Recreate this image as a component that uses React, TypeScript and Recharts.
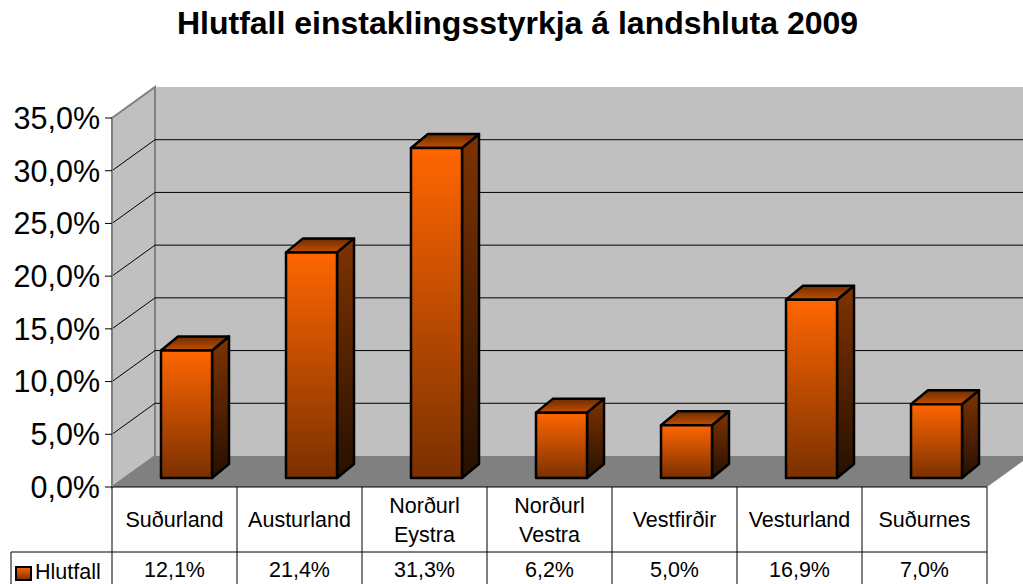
import { BarChart, Bar, XAxis, YAxis, CartesianGrid, ReferenceArea } from 'recharts';

const FONT = '"Liberation Sans", Arial, Helvetica, sans-serif';

const title = 'Hlutfall einstaklingsstyrkja á landshluta 2009';
const seriesName = 'Hlutfall';
const categories = ['Suðurland', 'Austurland', 'Norðurl Eystra', 'Norðurl Vestra', 'Vestfirðir', 'Vesturland', 'Suðurnes'];
const values = [0.121, 0.214, 0.313, 0.062, 0.05, 0.169, 0.07];
const yTicks = [0, 0.05, 0.1, 0.15, 0.2, 0.25, 0.3, 0.35];

// 3d look: wall depth and where bars sit inside it
const DEPTH_X = 43;
const DEPTH_Y = 31;
const BAR_SHIFT_X = 12;
const BAR_SHIFT_Y = 9;
const BAR_DX = 17;
const BAR_DY = 14;

const fmt = (v: number) => (v * 100).toFixed(1).replace('.', ',') + '%';

const data = categories.map((name, i) => ({ name, value: values[i] }));

function Walls(props: any) {
  const { x, y, width, height } = props;
  const bottom = y + height;
  return (
    <g>
      <defs>
        <linearGradient id="barFront" x1="0" y1="0" x2="0" y2="1">
          <stop offset="0%" stopColor="#FF6600" />
          <stop offset="100%" stopColor="#7A3000" />
        </linearGradient>
        <linearGradient id="barSide" x1="0" y1="0" x2="0" y2="1">
          <stop offset="0%" stopColor="#7F3300" />
          <stop offset="100%" stopColor="#261000" />
        </linearGradient>
        <linearGradient id="barTop" x1="0" y1="0" x2="0" y2="1">
          <stop offset="0%" stopColor="#6E2C00" />
          <stop offset="100%" stopColor="#C24F00" />
        </linearGradient>
      </defs>
      {/* back wall */}
      <rect x={x + DEPTH_X} y={y - DEPTH_Y} width={width + 10} height={height} fill="#C0C0C0" />
      {/* floor */}
      <polygon
        points={`${x},${bottom} ${x + width},${bottom} ${x + width + DEPTH_X},${bottom - DEPTH_Y} ${x + DEPTH_X},${bottom - DEPTH_Y}`}
        fill="#808080"
      />
      {/* left wall */}
      <polygon
        points={`${x},${y} ${x + DEPTH_X},${y - DEPTH_Y} ${x + DEPTH_X},${bottom - DEPTH_Y} ${x},${bottom}`}
        fill="#C0C0C0"
        stroke="#808080"
        strokeWidth={2}
      />
    </g>
  );
}

function GridLine(props: any) {
  const { x1, y1, x2, y, height } = props;
  if (y != null && height != null && (Math.abs(y1 - y) < 1 || Math.abs(y1 - (y + height)) < 1)) {
    return <g key={props.key} />;
  }
  return (
    <g key={props.key}>
      <line x1={x1} y1={y1} x2={x1 + DEPTH_X} y2={y1 - DEPTH_Y} stroke="#000" strokeWidth={1} />
      <line x1={x1 + DEPTH_X} y1={y1 - DEPTH_Y} x2={x2 + DEPTH_X + 10} y2={y1 - DEPTH_Y} stroke="#000" strokeWidth={1} />
    </g>
  );
}

function Bar3D(props: any) {
  const { x, y, width, height } = props;
  if (width == null || height == null) return null;
  const fx = x + BAR_SHIFT_X;
  const fy = y - BAR_SHIFT_Y;
  const r = fx + width;
  const b = fy + height;
  return (
    <g stroke="#000" strokeWidth={2.5} strokeLinejoin="round">
      <polygon
        points={`${r},${fy} ${r + BAR_DX},${fy - BAR_DY} ${r + BAR_DX},${b - BAR_DY} ${r},${b}`}
        fill="url(#barSide)"
      />
      <polygon
        points={`${fx},${fy} ${fx + BAR_DX},${fy - BAR_DY} ${r + BAR_DX},${fy - BAR_DY} ${r},${fy}`}
        fill="url(#barTop)"
      />
      <rect x={fx} y={fy} width={width} height={height} fill="url(#barFront)" />
    </g>
  );
}

function TableCell(props: any) {
  const { x, y, payload } = props;
  const i = payload.index;
  const colW = (props.width ?? 875) / categories.length;
  const left = x - colW / 2;
  const right = x + colW / 2;
  const lines = categories[i].split(' ');
  const rowY = y + 65;
  const txt = { fontFamily: FONT, fontSize: 21.5, fill: '#000', textAnchor: 'middle' as const };
  return (
    <g>
      <line x1={left} y1={y} x2={left} y2={y + 100} stroke="#000" strokeWidth={1} />
      {i === categories.length - 1 && <line x1={right} y1={y} x2={right} y2={y + 100} stroke="#000" strokeWidth={1} />}
      <line x1={left} y1={rowY} x2={right} y2={rowY} stroke="#000" strokeWidth={1} />
      {lines.length === 1 ? (
        <text x={x} y={y + 40} {...txt}>{lines[0]}</text>
      ) : (
        <>
          <text x={x} y={y + 26} {...txt}>{lines[0]}</text>
          <text x={x} y={y + 55} {...txt}>{lines[1]}</text>
        </>
      )}
      <text x={x} y={y + 90} {...txt}>{fmt(values[i])}</text>
      {i === 0 && (
        <g>
          <line x1={left - 101} y1={rowY} x2={left} y2={rowY} stroke="#000" strokeWidth={1} />
          <line x1={left - 101} y1={rowY} x2={left - 101} y2={y + 100} stroke="#000" strokeWidth={1} />
          <rect x={left - 96} y={y + 80} width={15} height={13} fill="url(#barFront)" stroke="#000" strokeWidth={2} />
          <text x={left - 77} y={y + 92} fontFamily={FONT} fontSize={21.5} fill="#000">{seriesName}</text>
        </g>
      )}
    </g>
  );
}

export default function App() {
  return (
    <div style={{ position: 'absolute', left: 0, top: 0, width: 1023, height: 584, background: '#fff', fontFamily: FONT }}>
      <BarChart
        width={1023}
        height={584}
        data={data}
        margin={{ top: 118, right: 36, bottom: 0, left: 0 }}
        barSize={51}
      >
        <ReferenceArea y1={0} y2={0.35} shape={(p: any) => <Walls {...p} />} zIndex={-200} />
        <CartesianGrid vertical={false} horizontal={(p: any) => <GridLine {...p} />} stroke="#000" />
        <XAxis
          dataKey="name"
          height={97}
          interval={0}
          tickSize={0}
          tickMargin={0}
          tickLine={false}
          axisLine={{ stroke: '#000', strokeWidth: 1 }}
          tick={(p: any) => <TableCell {...p} />}
        />
        <YAxis
          width={112}
          domain={[0, 0.35]}
          ticks={yTicks}
          tickFormatter={fmt}
          tickSize={7}
          tickMargin={5}
          tickLine={{ stroke: '#000', strokeWidth: 1 }}
          axisLine={{ stroke: '#808080', strokeWidth: 2 }}
          tick={{ fontSize: 30.5, fill: '#000', fontFamily: FONT }}
        />
        <Bar dataKey="value" isAnimationActive={false} shape={(p: any) => <Bar3D {...p} />} />
      </BarChart>
      <div
        style={{
          position: 'absolute',
          left: 6,
          top: 7,
          width: 1023,
          textAlign: 'center',
          fontSize: 32,
          lineHeight: '32px',
          fontWeight: 'bold',
          color: '#000',
        }}
      >
        {title}
      </div>
    </div>
  );
}
